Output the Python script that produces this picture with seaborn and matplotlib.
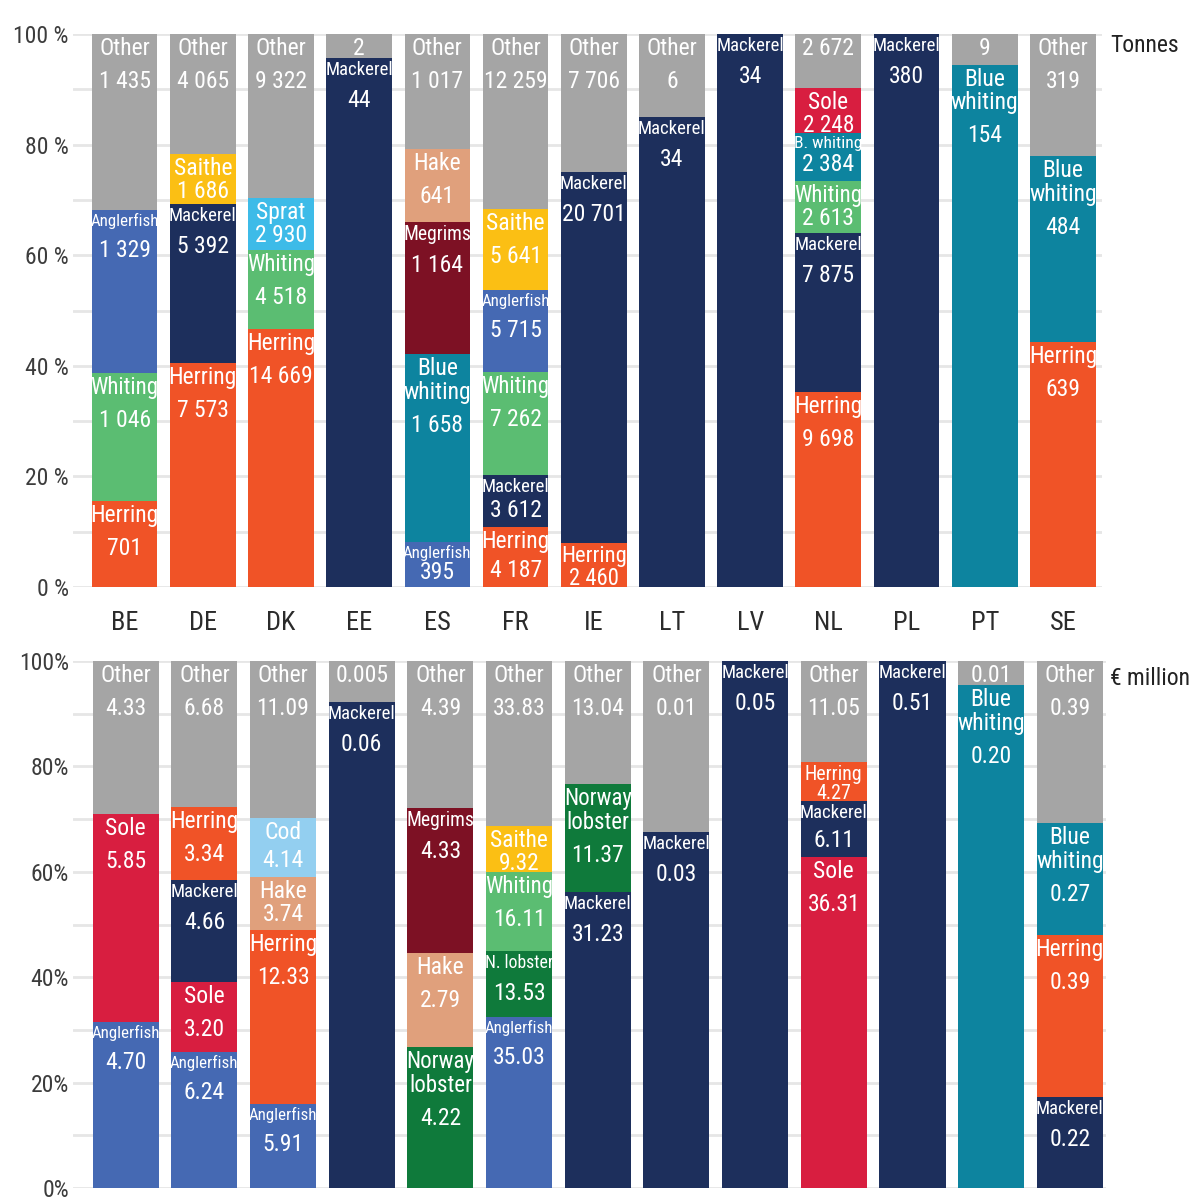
import pandas as pd
import matplotlib
matplotlib.use("Agg")
import matplotlib.pyplot as plt
import seaborn as sns
from matplotlib import font_manager
from matplotlib.ticker import MultipleLocator

# ---- data ----
countries = ["BE", "DE", "DK", "EE", "ES", "FR", "IE", "LT", "LV", "NL", "PL", "PT", "SE"]

# landings in tonnes, segments from bottom to top of each bar, share in % of the bar
t_country = ["BE", "BE", "BE", "BE",
             "DE", "DE", "DE", "DE",
             "DK", "DK", "DK", "DK",
             "EE", "EE",
             "ES", "ES", "ES", "ES", "ES",
             "FR", "FR", "FR", "FR", "FR", "FR",
             "IE", "IE", "IE",
             "LT", "LT",
             "LV",
             "NL", "NL", "NL", "NL", "NL", "NL",
             "PL",
             "PT", "PT",
             "SE", "SE", "SE"]
t_species = ["Herring", "Whiting", "Anglerfish", "Other",
             "Herring", "Mackerel", "Saithe", "Other",
             "Herring", "Whiting", "Sprat", "Other",
             "Mackerel", "Other",
             "Anglerfish", "Blue whiting", "Megrims", "Hake", "Other",
             "Herring", "Mackerel", "Whiting", "Anglerfish", "Saithe", "Other",
             "Herring", "Mackerel", "Other",
             "Mackerel", "Other",
             "Mackerel",
             "Herring", "Mackerel", "Whiting", "Blue whiting", "Sole", "Other",
             "Mackerel",
             "Blue whiting", "Other",
             "Herring", "Blue whiting", "Other"]
t_share = [15.54, 23.19, 29.46, 31.81,
           40.46, 28.81, 9.01, 21.72,
           46.66, 14.37, 9.32, 29.65,
           95.65, 4.35,
           8.10, 34.01, 23.88, 13.15, 20.86,
           10.83, 9.34, 18.78, 14.78, 14.59, 31.68,
           7.97, 67.06, 24.97,
           85.0, 15.0,
           100.0,
           35.28, 28.65, 9.51, 8.67, 8.18, 9.71,
           100.0,
           94.48, 5.52,
           44.31, 33.56, 22.13]
t_label = ["Herring\n701", "Whiting\n1 046", "Anglerfish\n1 329", "Other\n1 435",
           "Herring\n7 573", "Mackerel\n5 392", "Saithe\n1 686", "Other\n4 065",
           "Herring\n14 669", "Whiting\n4 518", "Sprat\n2 930", "Other\n9 322",
           "Mackerel\n44", "2",
           "Anglerfish\n395", "Blue\nwhiting\n1 658", "Megrims\n1 164", "Hake\n641", "Other\n1 017",
           "Herring\n4 187", "Mackerel\n3 612", "Whiting\n7 262", "Anglerfish\n5 715",
           "Saithe\n5 641", "Other\n12 259",
           "Herring\n2 460", "Mackerel\n20 701", "Other\n7 706",
           "Mackerel\n34", "Other\n6",
           "Mackerel\n34",
           "Herring\n9 698", "Mackerel\n7 875", "Whiting\n2 613", "B. whiting\n2 384",
           "Sole\n2 248", "2 672",
           "Mackerel\n380",
           "Blue\nwhiting\n154", "9",
           "Herring\n639", "Blue\nwhiting\n484", "Other\n319"]

# value in EUR million
v_country = ["BE", "BE", "BE",
             "DE", "DE", "DE", "DE", "DE",
             "DK", "DK", "DK", "DK", "DK",
             "EE", "EE",
             "ES", "ES", "ES", "ES",
             "FR", "FR", "FR", "FR", "FR",
             "IE", "IE", "IE",
             "LT", "LT",
             "LV",
             "NL", "NL", "NL", "NL",
             "PL",
             "PT", "PT",
             "SE", "SE", "SE", "SE"]
v_species = ["Anglerfish", "Sole", "Other",
             "Anglerfish", "Sole", "Mackerel", "Herring", "Other",
             "Anglerfish", "Herring", "Hake", "Cod", "Other",
             "Mackerel", "Other",
             "Norway lobster", "Hake", "Megrims", "Other",
             "Anglerfish", "Norway lobster", "Whiting", "Saithe", "Other",
             "Mackerel", "Norway lobster", "Other",
             "Mackerel", "Other",
             "Mackerel",
             "Sole", "Mackerel", "Herring", "Other",
             "Mackerel",
             "Blue whiting", "Other",
             "Mackerel", "Herring", "Blue whiting", "Other"]
v_share = [31.59, 39.31, 29.10,
           25.87, 13.27, 19.32, 13.85, 27.69,
           15.88, 33.14, 10.05, 11.13, 29.80,
           92.3, 7.7,
           26.83, 17.74, 27.53, 27.90,
           32.49, 12.55, 14.94, 8.64, 31.38,
           56.13, 20.44, 23.43,
           67.6, 32.4,
           100.0,
           62.89, 10.58, 7.40, 19.13,
           100.0,
           95.5, 4.5,
           17.32, 30.71, 21.26, 30.71]
v_label = ["Anglerfish\n4.70", "Sole\n5.85", "Other\n4.33",
           "Anglerfish\n6.24", "Sole\n3.20", "Mackerel\n4.66", "Herring\n3.34", "Other\n6.68",
           "Anglerfish\n5.91", "Herring\n12.33", "Hake\n3.74", "Cod\n4.14", "Other\n11.09",
           "Mackerel\n0.06", "0.005",
           "Norway\nlobster\n4.22", "Hake\n2.79", "Megrims\n4.33", "Other\n4.39",
           "Anglerfish\n35.03", "N. lobster\n13.53", "Whiting\n16.11", "Saithe\n9.32", "Other\n33.83",
           "Mackerel\n31.23", "Norway\nlobster\n11.37", "Other\n13.04",
           "Mackerel\n0.03", "Other\n0.01",
           "Mackerel\n0.05",
           "Sole\n36.31", "Mackerel\n6.11", "Herring\n4.27", "Other\n11.05",
           "Mackerel\n0.51",
           "Blue\nwhiting\n0.20", "0.01",
           "Mackerel\n0.22", "Herring\n0.39", "Blue\nwhiting\n0.27", "Other\n0.39"]

# stacking order (bottom -> top) used in each panel
t_order = ["Herring", "Mackerel", "Whiting", "Sprat", "Anglerfish", "Blue whiting",
           "Sole", "Saithe", "Megrims", "Hake", "Other"]
v_order = ["Anglerfish", "Sole", "Mackerel", "Herring", "Blue whiting", "Norway lobster",
           "Whiting", "Saithe", "Hake", "Megrims", "Cod", "Other"]

colors = {
    "Other": "#a5a5a5",
    "Herring": "#f05327",
    "Whiting": "#5bbd72",
    "Anglerfish": "#4569b3",
    "Mackerel": "#1d2f5c",
    "Saithe": "#fbbf14",
    "Sprat": "#3dbbe8",
    "Hake": "#e0a07c",
    "Megrims": "#7d1124",
    "Blue whiting": "#0d849f",
    "Sole": "#d81e40",
    "Cod": "#93cff0",
    "Norway lobster": "#0f7a3b",
}

# ---- style ----
sns.set_style("white")
names = {f.name for f in font_manager.fontManager.ttflist}
narrow = "DejaVu Sans"
for cand in ["Roboto Condensed", "Liberation Sans Narrow", "Open Sans Condensed", "Noto Sans Condensed"]:
    if cand in names:
        narrow = cand
        break
plt.rcParams["font.family"] = [narrow, "DejaVu Sans"]

W, H = 1200, 1202
BAR_PX = 68
fig = plt.figure(figsize=(W / 100, H / 100), dpi=100)

# axes placed in pixel terms
ax_top = fig.add_axes([73 / W, 1 - 587 / H, (1102 - 73) / W, (587 - 34) / H])
ax_bot = fig.add_axes([73 / W, 1 - 1188 / H, (1106 - 73) / W, (1188 - 661) / H])

labels = []


def draw_panel(ax, country, species, share, label, order, xlim, pct_fmt, show_x):
    df = pd.DataFrame({"country": country, "species": species, "share": share, "label": label})
    sns.histplot(data=df, x="country", hue="species", weights="share",
                 multiple="stack", discrete=True, shrink=0.84,
                 hue_order=order[::-1], palette=colors, alpha=1, linewidth=0,
                 legend=False, ax=ax)
    ax.set_xlim(*xlim)
    ax.set_ylim(0, 100)
    ax.yaxis.set_minor_locator(MultipleLocator(10))
    ax.set_yticks(range(0, 101, 20))
    ax.set_yticklabels([pct_fmt.format(v) for v in range(0, 101, 20)])
    ax.grid(axis="y", which="both", color="#e6e6e6", lw=2)
    ax.set_axisbelow(True)
    ax.tick_params(axis="y", which="both", length=0, pad=3, labelsize=17, labelcolor="#3c3c3c")
    ax.tick_params(axis="x", length=0, pad=17, labelsize=19, labelcolor="#2b2b2b")
    ax.set_xticks(range(len(countries)))
    ax.set_xticklabels(countries if show_x else [])
    ax.set_xlabel("")
    ax.set_ylabel("")
    sns.despine(ax=ax, left=True, bottom=True)

    df["top"] = df.groupby("country")["share"].cumsum()
    for _, row in df.iterrows():
        xi = countries.index(row["country"])
        parts = row["label"].rsplit("\n", 1)
        name, value = (parts[0], parts[1]) if len(parts) == 2 else ("", parts[0])
        name_t = None
        if name:
            name_t = ax.annotate(name, xy=(xi, row["top"]), xytext=(0, -3),
                                 textcoords="offset pixels", ha="center", va="top",
                                 color="white", fontsize=17, linespacing=1.05)
        value_t = ax.annotate(value, xy=(xi, row["top"]), xytext=(0, -3),
                              textcoords="offset pixels", ha="center", va="top",
                              color="white", fontsize=17)
        labels.append((ax, row["share"], name_t, value_t))


draw_panel(ax_top, t_country, t_species, t_share, t_label, t_order,
           (-0.66, 12.5), "{} %", True)
draw_panel(ax_bot, v_country, v_species, v_share, v_label, v_order,
           (-0.67, 12.46), "{}%", False)

fig.text(1110 / W, 1 - 45 / H, "Tonnes", ha="left", va="center", fontsize=17, color="#222222")
fig.text(1110 / W, 1 - 678 / H, "€ million", ha="left", va="center", fontsize=17, color="#222222")

# fit labels into the bars: shrink wide names, put values under names
fig.canvas.draw()
r = fig.canvas.get_renderer()
for ax, share, name_t, value_t in labels:
    for t in (name_t, value_t):
        if t is None:
            continue
        w = t.get_window_extent(r).width
        if w > BAR_PX:
            t.set_fontsize(t.get_fontsize() * BAR_PX / w)
fig.canvas.draw()
for ax, share, name_t, value_t in labels:
    if name_t is None:
        continue
    seg = share * ax.get_window_extent(r).height / 100
    nh = name_t.get_window_extent(r).height
    vh = value_t.get_window_extent(r).height
    avail = seg
    if nh + vh > avail:
        k = avail / (nh + vh)
        name_t.set_fontsize(name_t.get_fontsize() * k)
        value_t.set_fontsize(value_t.get_fontsize() * k)
        fig.canvas.draw()
        nh = name_t.get_window_extent(r).height
        vh = value_t.get_window_extent(r).height
    gap = max(0, min(10, seg - 8 - nh - vh))
    value_t.set_position((0, -3 - nh - gap))

fig.savefig("out.png", dpi=100)
